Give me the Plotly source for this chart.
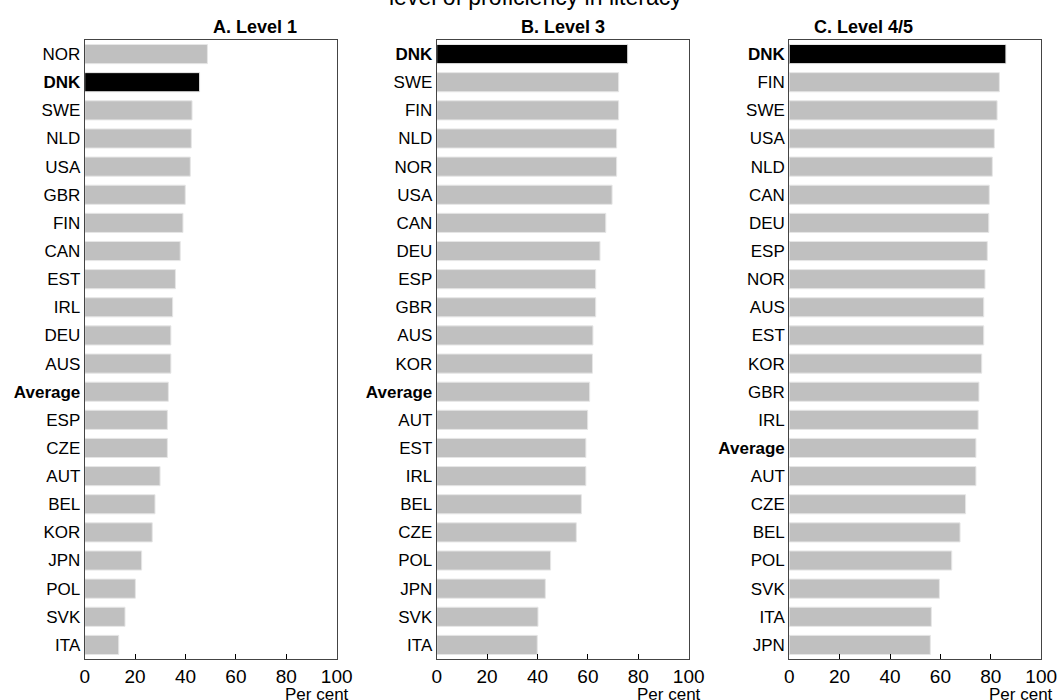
import plotly.graph_objects as go

# Panel A: Level 1
cats_a = ["NOR", "DNK", "SWE", "NLD", "USA", "GBR", "FIN", "CAN", "EST", "IRL", "DEU",
          "AUS", "Average", "ESP", "CZE", "AUT", "BEL", "KOR", "JPN", "POL", "SVK", "ITA"]
vals_a = [48.7, 45.6, 42.6, 42.3, 41.9, 39.9, 39.0, 37.9, 36.0, 34.9, 34.2,
          34.2, 33.2, 32.8, 32.8, 29.9, 27.9, 26.8, 22.6, 20.1, 16.0, 13.5]

# Panel B: Level 3
cats_b = ["DNK", "SWE", "FIN", "NLD", "NOR", "USA", "CAN", "DEU", "ESP", "GBR", "AUS",
          "KOR", "Average", "AUT", "EST", "IRL", "BEL", "CZE", "POL", "JPN", "SVK", "ITA"]
vals_b = [75.8, 72.2, 72.2, 71.4, 71.4, 69.6, 67.1, 64.8, 63.1, 63.1, 62.0,
          61.8, 60.7, 59.9, 59.2, 59.2, 57.4, 55.4, 45.2, 43.1, 40.2, 39.9]

# Panel C: Level 4/5
cats_c = ["DNK", "FIN", "SWE", "USA", "NLD", "CAN", "DEU", "ESP", "NOR", "AUS", "EST",
          "KOR", "GBR", "IRL", "Average", "AUT", "CZE", "BEL", "POL", "SVK", "ITA", "JPN"]
vals_c = [86.0, 83.4, 82.5, 81.4, 80.6, 79.4, 79.2, 78.6, 77.7, 77.2, 77.2,
          76.4, 75.3, 75.0, 74.1, 74.1, 70.0, 67.8, 64.5, 59.6, 56.4, 56.0]

panel_titles = ["A. Level 1", "B. Level 3", "C. Level 4/5"]
x_ticks = [0, 20, 40, 60, 80, 100]
highlight = "DNK"
bold_labels = ["DNK", "Average"]

W, H = 1058, 700
domains = [(84.7 / W, 336.7 / W), (436.7 / W, 688.7 / W), (789.2 / W, 1041.2 / W)]

fig = go.Figure()
panels = [(cats_a, vals_a), (cats_b, vals_b), (cats_c, vals_c)]
FONT = "Liberation Sans, Arial, sans-serif"

for i, (cats, vals) in enumerate(panels):
    idx = "" if i == 0 else str(i + 1)
    colors = ["#000000" if c == highlight else "#C0C0C0" for c in cats]
    fig.add_trace(go.Bar(
        x=vals, y=cats, orientation="h",
        marker=dict(color=colors, line=dict(color="#E6E6E6", width=1)),
        xaxis="x" + idx, yaxis="y" + idx, showlegend=False,
    ))
    ticktext = [f"<b>{c}</b>" if c in bold_labels else c for c in cats]
    fig.update_layout({
        "xaxis" + idx: dict(
            domain=list(domains[i]), range=[0, 100], tickvals=x_ticks,
            ticks="inside", ticklen=5, tickcolor="#000", tickwidth=1,
            showline=True, linecolor="#444", linewidth=1, mirror=True,
            showgrid=False, zeroline=False, anchor="y" + idx, automargin=False,
            tickfont=dict(family=FONT, size=19, color="#000"),
        ),
        "yaxis" + idx: dict(
            domain=[0, 1], type="category", categoryorder="array", categoryarray=cats,
            autorange="reversed", tickvals=cats, ticktext=ticktext,
            showline=True, linecolor="#444", linewidth=1, mirror=True,
            ticks="", showgrid=False, zeroline=False, anchor="x" + idx, automargin=False,
            tickfont=dict(family=FONT, size=17, color="#000"),
        ),
    })
    fig.add_annotation(
        text=f"<b>{panel_titles[i]}</b>", xref="paper", yref="paper",
        x=(domains[i][0] + domains[i][1]) / 2, y=1, yanchor="bottom", yshift=1,
        showarrow=False, font=dict(family=FONT, size=18, color="#000"),
    )
    fig.add_annotation(
        text="Per cent", xref="x" + idx, yref="paper", x=100, y=0,
        xanchor="right", yanchor="top", xshift=14, yshift=-24,
        showarrow=False, font=dict(family=FONT, size=17, color="#000"),
    )

fig.add_annotation(
    text="level of proficiency in literacy", xref="paper", yref="paper",
    x=535 / W, y=1, yanchor="bottom", yshift=28,
    showarrow=False, font=dict(family=FONT, size=23, color="#000"),
)

fig.update_layout(
    width=W, height=H, bargap=0.32,
    margin=dict(l=0, r=0, t=40, b=41),
    plot_bgcolor="white", paper_bgcolor="white",
    font=dict(family=FONT, color="#000"),
)

fig.write_html("out.html", config={"displayModeBar": False},
               post_script="document.body.style.margin='0';")
